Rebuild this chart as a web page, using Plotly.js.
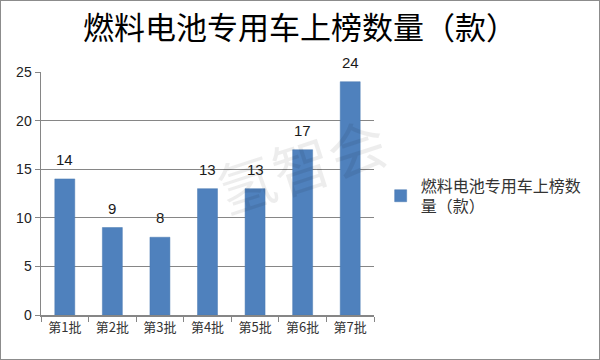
<!DOCTYPE html>
<html><head><meta charset="utf-8">
<script src="https://cdn.plot.ly/plotly-3.0.1.min.js"></script>
<style>
html,body{margin:0;padding:0;background:#fff;}
#chart{width:600px;height:360px;box-sizing:border-box;border:1px solid #8c8c8c;}
</style></head>
<body><div id="chart"></div>
<script>
const categories = ["第1批","第2批","第3批","第4批","第5批","第6批","第7批"];
const values = [14, 9, 8, 13, 13, 17, 24];
const seriesName = "燃料电池专用车上榜数<br>量（款）";
const chartTitle = "燃料电池专用车上榜数量（款）";
const watermark = "氢智会";

const font = "'Noto Sans CJK SC', 'Liberation Sans', sans-serif";
const trace = {
  type: "bar", x: categories, y: values, name: seriesName,
  marker: {color: "#4F81BD", line: {color: "#4A7AB3", width: 0.5}},
  showlegend: true
};
const labelAnns = categories.map((c, i) => ({
  x: c, y: values[i], xref: "x", yref: "y", text: String(values[i]),
  showarrow: false, xanchor: "center", yanchor: "bottom", yshift: 9,
  font: {family: "'Liberation Sans', sans-serif", size: 15, color: "#1a1a1a"}
}));
const layout = {
  width: 598, height: 358,
  margin: {l: 40, r: 221, t: 71, b: 44},
  paper_bgcolor: "#fff", plot_bgcolor: "#fff",
  title: {text: chartTitle, font: {family: font, size: 31, color: "#000"}, x: 0.5, xanchor: "center", y: 0.925, yanchor: "middle"},
  font: {family: font},
  bargap: 0.58,
  xaxis: {type: "category", showline: true, linecolor: "#868686", linewidth: 1.5, ticks: "outside", ticklen: 5, tickcolor: "#868686", tickson: "boundaries", tickfont: {family: font, size: 13, color: "#333"}, showgrid: false, fixedrange: true},
  yaxis: {range: [0, 25], dtick: 5, showline: true, linecolor: "#868686", linewidth: 1.5, ticks: "outside", ticklen: 5, tickcolor: "#868686", gridcolor: "#868686", gridwidth: 1.2, zeroline: false, tickfont: {family: "'Liberation Sans', sans-serif", size: 14, color: "#222"}, fixedrange: true},
  legend: {x: 1.02, xanchor: "left", y: 0.49, yanchor: "middle", font: {family: font, size: 16, color: "#333"}, itemwidth: 30, tracegroupgap: 0, bgcolor: "rgba(0,0,0,0)"},
  annotations: labelAnns.concat([{text: watermark, xref: "paper", yref: "paper", x: 0.78, y: 0.62, xanchor: "center", yanchor: "middle", showarrow: false, textangle: -18, font: {family: font, size: 58, color: "rgba(0,0,0,0.07)"}}])
};
Plotly.newPlot("chart", [trace], layout, {displayModeBar: false, staticPlot: true});
</script></body></html>
